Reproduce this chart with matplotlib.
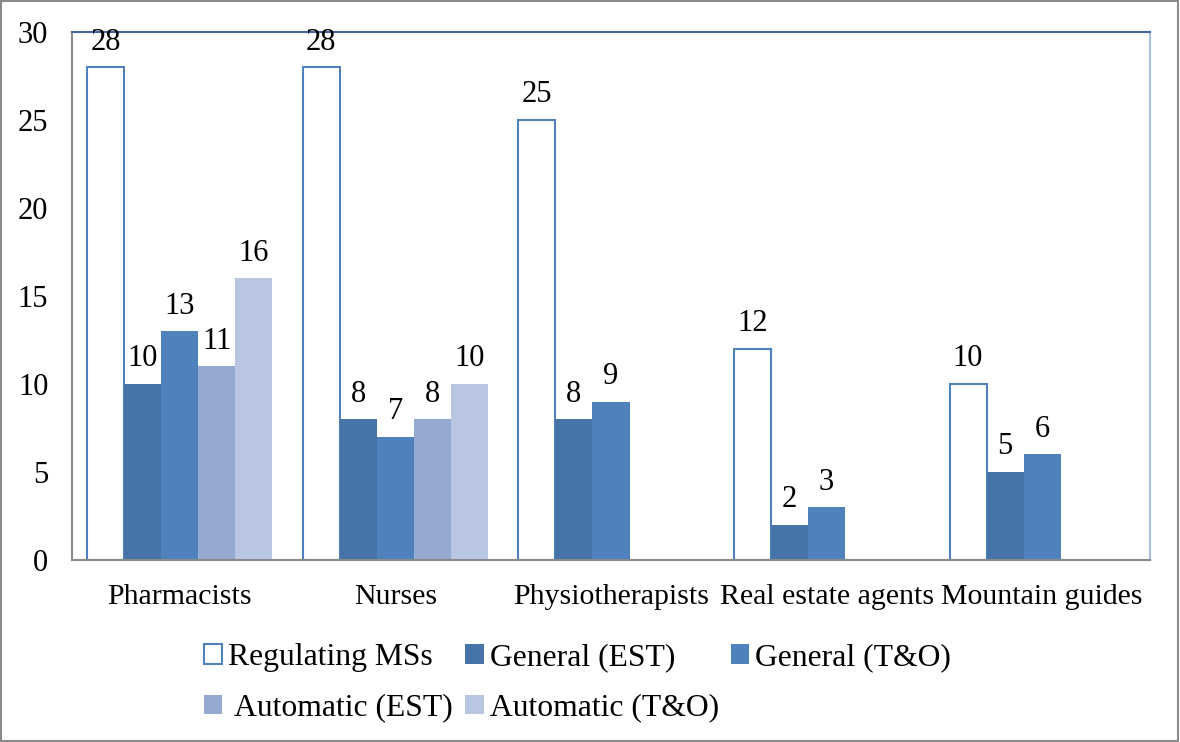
import matplotlib
matplotlib.use("Agg")
import matplotlib.pyplot as plt
import numpy as np
from matplotlib.patches import Rectangle, Patch

categories = ["Pharmacists", "Nurses", "Physiotherapists", "Real estate agents", "Mountain guides"]
regulating = [28, 28, 25, 12, 10]
general_est = [10, 8, 8, 2, 5]
general_to = [13, 7, 9, 3, 6]
automatic_est = [11, 8, None, None, None]
automatic_to = [16, 10, None, None, None]

series = [
    ("Regulating MSs", regulating, "white", "#4F81BD"),
    ("General (EST)", general_est, "#4673A8", "#4673A8"),
    ("General (T&O)", general_to, "#4F81BD", "#4F81BD"),
    (" Automatic (EST)", automatic_est, "#95A9D1", "#95A9D1"),
    ("Automatic (T&O)", automatic_to, "#B9C6E1", "#B9C6E1"),
]

plt.rcParams['font.family'] = ['Liberation Serif', 'DejaVu Serif']

fig = plt.figure(figsize=(11.8, 7.42), dpi=100)
ax = fig.add_axes([0.061, 0.2453, 0.9136, 0.7116])

x = np.arange(len(categories))
w = 0.172
handles = []
for i, (name, vals, fc, ec) in enumerate(series):
    off = (i - 2) * w
    xs = [xx + off for xx, v in zip(x, vals) if v is not None]
    vs = [v for v in vals if v is not None]
    lw = 1.5 if fc == "white" else 0
    ax.bar(xs, vs, w, color=fc, edgecolor=ec, linewidth=lw, zorder=2)
    for xx, v in zip(xs, vs):
        ax.text(xx, v + 0.6, str(v), ha='center', va='bottom', fontsize=22, zorder=3)
    handles.append(Patch(facecolor=fc, edgecolor=ec, linewidth=1.5 if fc == "white" else 0, label=name))

ax.set_xlim(-0.5, 4.5)
ax.set_ylim(0, 30)
ax.set_yticks([0, 5, 10, 15, 20, 25, 30])
ax.set_xticks(x)
ax.set_xticklabels(categories)
ax.tick_params(axis='y', length=0, labelsize=22, pad=17)
ax.tick_params(axis='x', length=0, labelsize=21.5, pad=17.5)

ax.spines['top'].set_color('#3F66A0')
ax.spines['top'].set_linewidth(1.5)
ax.spines['left'].set_color('#8A8A8A')
ax.spines['left'].set_linewidth(1.5)
ax.spines['bottom'].set_color('#8A8A8A')
ax.spines['bottom'].set_linewidth(1.5)
ax.spines['right'].set_color('#A9C0DE')
ax.spines['right'].set_linewidth(1.5)

order = [0, 3, 1, 4, 2]
leg = fig.legend([handles[k] for k in order], [handles[k].get_label() for k in order],
                 ncol=3, loc='upper left', bbox_to_anchor=(204 / 1180, 1 - 643 / 742),
                 frameon=False, fontsize=22.8, handlelength=0.57, handleheight=0.57,
                 handletextpad=0.19, columnspacing=0.4, labelspacing=0.68, borderpad=0,
                 borderaxespad=0)

fig.patches.append(Rectangle((0.001, 0.001), 0.997, 0.997, transform=fig.transFigure,
                             fill=False, edgecolor='#8A8A8A', linewidth=1.5))

fig.savefig("out.png", dpi=100)
